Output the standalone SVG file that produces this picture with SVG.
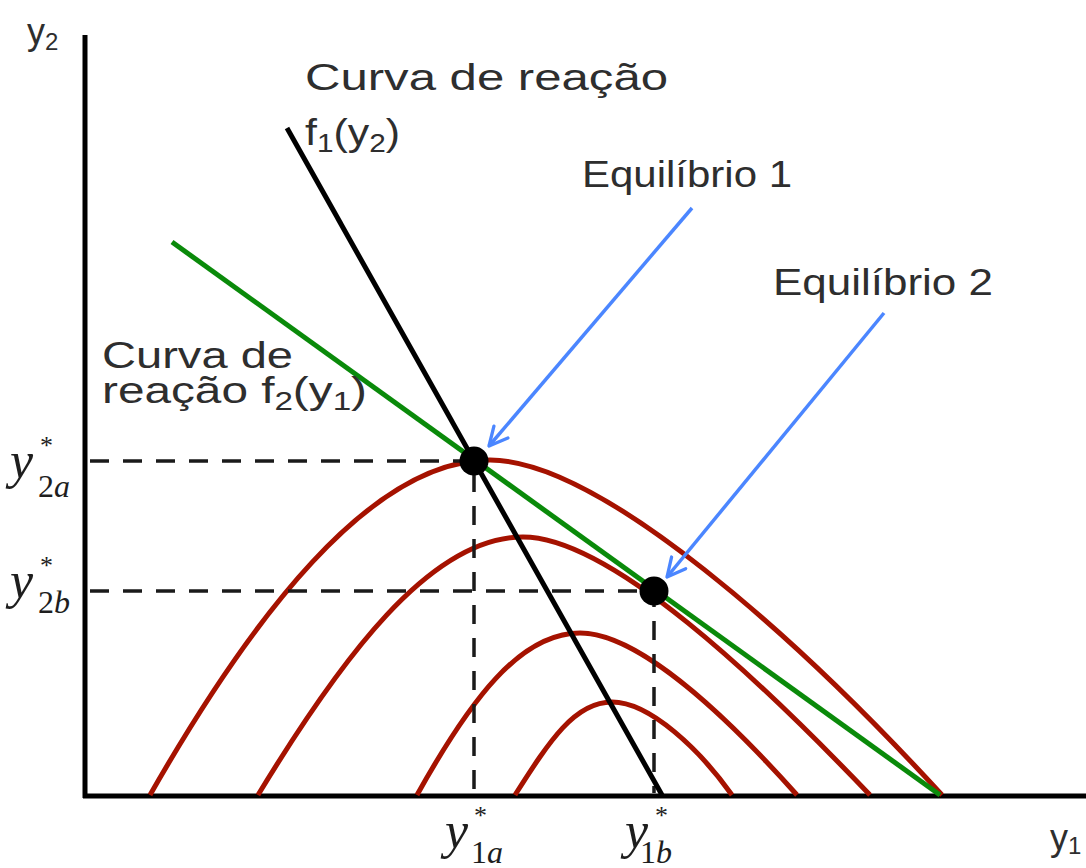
<svg xmlns="http://www.w3.org/2000/svg" width="1086" height="868" viewBox="0 0 1086 868">
<style>
.lbl{font-family:"Liberation Sans","DejaVu Sans",sans-serif;font-size:36px;fill:#2e2e2e}
.math{font-family:"Liberation Serif","Times New Roman",serif;fill:#1e1e1e}
.iso{fill:none;stroke:#a51200;stroke-width:5}
.dash{stroke:#1a1a1a;stroke-width:3.5;stroke-dasharray:19 14;fill:none}
.blue{stroke:#4b86ff;stroke-width:3.5;fill:none}
</style>
<defs>
<marker id="open" viewBox="0 0 12 12" refX="11" refY="6" markerWidth="22" markerHeight="22" markerUnits="userSpaceOnUse" orient="auto">
<path d="M1,1 L11,6 L1,11" fill="none" stroke="#4b86ff" stroke-width="1.8" stroke-linecap="round" stroke-linejoin="round"/>
</marker>
</defs>
<rect width="1086" height="868" fill="#ffffff"/>
<g id="axes">
<line x1="85" y1="35" x2="85" y2="798" stroke="#000" stroke-width="5"/>
<line x1="83" y1="796" x2="1086" y2="796" stroke="#000" stroke-width="5"/>
<text class="lbl" x="27" y="44" font-size="33">y<tspan font-size="24" dy="6">2</tspan></text>
<text class="lbl" x="1050" y="850" font-size="33">y<tspan font-size="24" dy="4">1</tspan></text>
</g>
<g id="isoprofit">
<path class="iso" d="M150,795 C250,620 370,460 490,460 C600,460 800,640 942,795"/>
<path class="iso" d="M258,795 C340,660 430,537 523,537 C610,537 760,680 870,795"/>
<path class="iso" d="M417,795 C470,700 520,633 580,633 C640,633 730,720 797,795"/>
<path class="iso" d="M515,795 C550,740 575,702 612,702 C650,702 700,750 732,795"/>
</g>
<g id="guides">
<path class="dash" d="M90,461 H474 V793"/>
<path class="dash" d="M90,591 H654 V793"/>
</g>
<g id="reaction-f2">
<line x1="172" y1="242" x2="940" y2="795" stroke="#0a8a0a" stroke-width="5"/>
</g>
<g id="reaction-f1">
<line x1="287" y1="128" x2="662" y2="795" stroke="#000" stroke-width="5"/>
</g>
<g id="equilibrium-points">
<circle cx="474" cy="461" r="14.5" fill="#000"/>
<circle cx="654" cy="591" r="14.5" fill="#000"/>
</g>
<g id="connectors">
<line class="blue" x1="692" y1="208" x2="489" y2="446" marker-end="url(#open)"/>
<line class="blue" x1="884" y1="313" x2="667" y2="577" marker-end="url(#open)"/>
</g>
<g id="label-f1">
<text class="lbl" x="305" y="90" textLength="363" lengthAdjust="spacingAndGlyphs">Curva de reação</text>
<text class="lbl" x="305" y="145" textLength="95" lengthAdjust="spacingAndGlyphs">f<tspan font-size="25" dy="7">1</tspan><tspan dy="-7">(y</tspan><tspan font-size="25" dy="7">2</tspan><tspan dy="-7">)</tspan></text>
</g>
<g id="label-f2">
<text class="lbl" x="102" y="368" textLength="191" lengthAdjust="spacingAndGlyphs">Curva de</text>
<text class="lbl" x="102" y="403" textLength="265" lengthAdjust="spacingAndGlyphs">reação f<tspan font-size="25" dy="7">2</tspan><tspan dy="-7">(y</tspan><tspan font-size="25" dy="7">1</tspan><tspan dy="-7">)</tspan></text>
</g>
<g id="label-eq1">
<text class="lbl" x="582" y="187" textLength="210" lengthAdjust="spacingAndGlyphs">Equilíbrio 1</text>
</g>
<g id="label-eq2">
<text class="lbl" x="773" y="295" textLength="220" lengthAdjust="spacingAndGlyphs">Equilíbrio 2</text>
</g>
<g id="math-labels">
<text class="math" x="10" y="478" font-size="52" font-style="italic">y</text>
<text class="math" x="40" y="454" font-size="26">*</text>
<text class="math" x="38" y="497" font-size="32" font-style="italic"><tspan font-style="normal">2</tspan>a</text>
<text class="math" x="10" y="598" font-size="52" font-style="italic">y</text>
<text class="math" x="40" y="574" font-size="26">*</text>
<text class="math" x="38" y="613" font-size="32" font-style="italic"><tspan font-style="normal">2</tspan>b</text>
<text class="math" x="445" y="848" font-size="52" font-style="italic">y</text>
<text class="math" x="474" y="824" font-size="26">*</text>
<text class="math" x="471" y="863" font-size="32" font-style="italic"><tspan font-style="normal">1</tspan>a</text>
<text class="math" x="625" y="848" font-size="52" font-style="italic">y</text>
<text class="math" x="655" y="824" font-size="26">*</text>
<text class="math" x="640" y="863" font-size="32" font-style="italic"><tspan font-style="normal">1</tspan>b</text>
</g>
</svg>
